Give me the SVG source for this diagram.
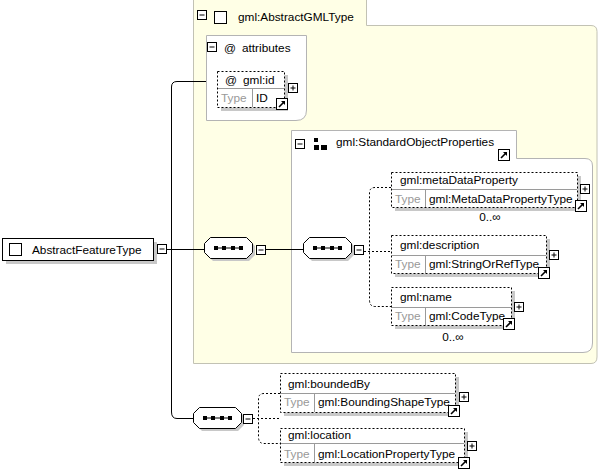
<svg xmlns="http://www.w3.org/2000/svg" width="598" height="469" viewBox="0 0 598 469">
<style>
text{font-family:"Liberation Sans",Arial,sans-serif;font-size:11.8px;fill:#000}
.ty{fill:#999}
.grp{fill:#ffffe6;stroke:#c2c2b4;stroke-width:1}
.sub{fill:#fff;stroke:#b4b4b4;stroke-width:1}
.el{fill:#fff;stroke:#000;stroke-width:1;stroke-dasharray:2,2}
.sh{fill:#c8c8c8}
.div{stroke:#9a9a9a;stroke-width:1;fill:none}
.btn{fill:#fff;stroke:#000;stroke-width:1}
.ln{stroke:#000;stroke-width:1;fill:none}
.dl{stroke:#000;stroke-width:1;fill:none;stroke-dasharray:2,2}
.oct{fill:#fff;stroke:#000;stroke-width:1}
</style>
<defs>
<g id="minus"><rect class="btn" x="0.5" y="0.5" width="9" height="9"/><path d="M2.5,5H7.5" class="ln"/></g>
<g id="plus"><rect class="btn" x="0.5" y="0.5" width="9" height="9"/><path d="M2.5,5H7.5M5,2.5V7.5" class="ln"/></g>
<g id="link"><rect x="0.5" y="0.5" width="11" height="11" fill="#fff" stroke="#000"/><path d="M3,9L8.5,3.5" stroke="#000" stroke-width="1.6"/><path d="M5,3H9V7Z" fill="#000"/></g>
<g id="seq"><path class="sh" d="M9,3H45L51,9V18L45,24H9L3,18V9Z"/><path class="oct" d="M6.5,0.5H42.5L48.5,6.5V15.5L42.5,21.5H6.5L0.5,15.5V6.5Z"/><path d="M10,11H39" stroke="#000" stroke-width="1"/><rect x="10" y="9" width="4" height="4"/><rect x="18" y="9" width="4" height="4"/><rect x="27" y="9" width="4" height="4"/><rect x="35" y="9" width="4" height="4"/></g>
</defs>

<g id="AbstractGMLType">
<path class="grp" d="M193.5,-1H366.5V25.5H591Q597,25.5 597,31.5V357Q597,363.5 591,363.5H193.5Z"/>
<use href="#minus" x="197" y="10"/>
<rect x="214.5" y="11.5" width="12" height="12" fill="#fff" stroke="#000"/>
<text x="238" y="21">gml:AbstractGMLType</text>
</g>

<g id="attributes">
<path class="sub" d="M206.5,35.5H306.5V110Q306.5,120.5 296,120.5H206.5Z"/>
<use href="#minus" x="207" y="42"/>
<text x="224" y="52">@</text>
<text x="242" y="52">attributes</text>
</g>

<g id="gml_id">
<rect class="sh" x="221" y="75" width="67" height="36"/>
<rect class="el" x="217.5" y="71.5" width="67" height="36"/>
<path class="div" d="M218,88.5H284M252.5,89V107"/>
<text x="225" y="84">@</text>
<text x="243" y="84">gml:id</text>
<text class="ty" x="221" y="102">Type</text>
<text x="256" y="102">ID</text>
<use href="#plus" x="288" y="83"/>
<use href="#link" x="276" y="98"/>
</g>

<g id="AbstractFeatureType">
<rect class="sh" x="6" y="242" width="151" height="22"/>
<rect x="2.5" y="238.5" width="151" height="22" fill="#fff" stroke="#000"/>
<rect x="9.5" y="243.5" width="12" height="12" fill="#fff" stroke="#000"/>
<text x="32" y="254">AbstractFeatureType</text>
<use href="#minus" x="157" y="244"/>
</g>

<g id="sequence1">
<use href="#seq" x="204" y="237"/>
<use href="#minus" x="256" y="245"/>
</g>

<g id="StandardObjectProperties">
<path class="sub" d="M291.5,130.5H516.5V158.5H585Q592.5,158.5 592.5,166V343Q592.5,352.5 583,352.5H291.5Z"/>
<use href="#minus" x="295" y="139"/>
<rect x="314" y="138" width="4" height="4"/>
<rect x="314" y="145" width="5" height="5"/>
<rect x="321" y="145" width="6" height="5"/>
<text x="336" y="146">gml:StandardObjectProperties</text>
<use href="#link" x="498" y="149"/>
</g>

<g id="sequence2">
<use href="#seq" x="303" y="237"/>
<use href="#minus" x="354" y="245"/>
</g>

<g id="metaDataProperty">
<rect class="sh" x="395" y="176" width="186" height="35"/>
<rect class="el" x="391.5" y="172.5" width="186" height="35"/>
<path class="div" d="M392,189.5H577M425.5,190V207"/>
<text x="400" y="184">gml:metaDataProperty</text>
<text class="ty" x="395" y="203">Type</text>
<text x="429" y="203">gml:MetaDataPropertyType</text>
<use href="#plus" x="580" y="184"/>
<use href="#link" x="575" y="200"/>
<text x="490" y="221" text-anchor="middle">0..∞</text>
</g>

<g id="description">
<rect class="sh" x="395" y="239" width="155" height="38"/>
<rect class="el" x="391.5" y="235.5" width="155" height="38"/>
<path class="div" d="M392,255.5H546M425.5,256V273"/>
<text x="400" y="249">gml:description</text>
<text class="ty" x="395" y="268">Type</text>
<text x="429" y="268">gml:StringOrRefType</text>
<use href="#plus" x="549" y="250"/>
<use href="#link" x="538" y="267"/>
</g>

<g id="name">
<rect class="sh" x="395" y="291" width="120" height="38"/>
<rect class="el" x="391.5" y="287.5" width="120" height="38"/>
<path class="div" d="M392,307.5H511M425.5,308V325"/>
<text x="400" y="301">gml:name</text>
<text class="ty" x="395" y="320">Type</text>
<text x="429" y="320">gml:CodeType</text>
<use href="#plus" x="514" y="302"/>
<use href="#link" x="503" y="318"/>
<text x="453" y="341" text-anchor="middle">0..∞</text>
</g>

<g id="sequence3">
<use href="#seq" x="193" y="407"/>
<use href="#minus" x="243" y="414"/>
</g>

<g id="boundedBy">
<rect class="sh" x="284" y="377" width="175" height="39"/>
<rect class="el" x="280.5" y="373.5" width="175" height="39"/>
<path class="div" d="M281,393.5H455M314.5,394V412"/>
<text x="288" y="388">gml:boundedBy</text>
<text class="ty" x="284" y="406">Type</text>
<text x="318" y="406">gml:BoundingShapeType</text>
<use href="#plus" x="459" y="392"/>
<use href="#link" x="448" y="405"/>
</g>

<g id="location">
<rect class="sh" x="284" y="432" width="184" height="34"/>
<rect class="el" x="280.5" y="428.5" width="184" height="34"/>
<path class="div" d="M281,443.5H464M314.5,444V462"/>
<text x="288" y="439">gml:location</text>
<text class="ty" x="284" y="458">Type</text>
<text x="318" y="458">gml:LocationPropertyType</text>
<use href="#plus" x="467" y="441"/>
<use href="#link" x="458" y="457"/>
</g>

<g id="connectors">
<path class="ln" d="M167,249.5H204"/>
<path class="ln" d="M206,81.5H177Q171.5,81.5 171.5,87V412Q171.5,418.5 177,418.5H193"/>
<path class="ln" d="M266,249.5H303"/>
<path class="dl" d="M364,251.5H391"/>
<path class="dl" d="M391,187.5H375Q369.5,187.5 369.5,193V300Q369.5,306.5 375,306.5H391"/>
<path class="dl" d="M253,418.5H280"/>
<path class="dl" d="M280,393.5H264Q258.5,393.5 258.5,399V437Q258.5,443.5 264,443.5H280"/>
</g>
</svg>
